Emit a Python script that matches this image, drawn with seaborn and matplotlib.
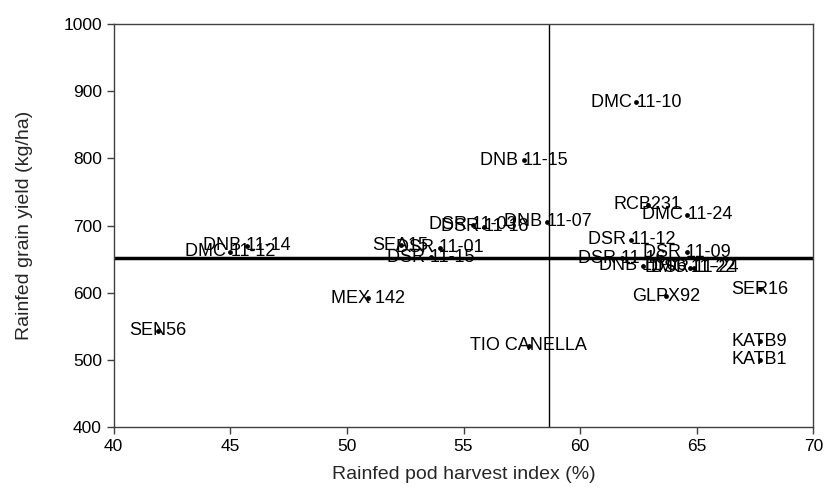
import matplotlib
matplotlib.use("Agg")
import matplotlib.pyplot as plt
import seaborn as sns
import pandas as pd

# genotype labels and values
genotypes = ["DMC 11-10", "DNB 11-15", "RCB231", "DMC 11-24", "DNB 11-07",
             "DSR 11-03", "DSR 11-18", "DNB 11-14", "DMC 11-12", "SEA15",
             "DSR 11-01", "DSR 11-15", "MEX 142", "SEN56", "TIO CANELLA",
             "DSR 11-12", "DSR 11-09", "DSR 11-16", "DNB 11-06", "DMC 11-22",
             "DSR 11-24", "GLPX92", "SER16", "KATB9", "KATB1"]
pod_hi = [62.4, 57.6, 62.9, 64.6, 58.6,
          55.4, 55.9, 45.7, 45.0, 52.3,
          54.0, 53.6, 50.9, 41.9, 57.8,
          62.2, 64.6, 61.8, 62.7, 64.7,
          64.9, 63.7, 67.7, 67.7, 67.7]
grain_yield = [884, 797, 731, 716, 706,
               701, 698, 670, 661, 671,
               667, 653, 592, 543, 521,
               679, 660, 651, 640, 637,
               637, 595, 605, 528, 500]

mean_hi = 58.65
mean_yield = 651

df = pd.DataFrame({"hi": pod_hi, "gy": grain_yield, "name": genotypes})

sns.set_style("white")
plt.rcParams['font.family'] = ['Liberation Sans', 'DejaVu Sans']

fig = plt.figure(figsize=(8.24, 4.93), dpi=100)
ax = fig.add_axes([0.138, 0.134, 0.849, 0.817])

sns.scatterplot(data=df, x="hi", y="gy", ax=ax, color="black", s=12,
                edgecolor="black", linewidth=0, zorder=3)

for _, r in df.iterrows():
    ax.text(r["hi"], r["gy"], r["name"], ha="center", va="center",
            fontsize=13, color="black", zorder=4)

ax.axhline(mean_yield, color="black", lw=2.5, zorder=2)
ax.axvline(mean_hi, color="black", lw=1, zorder=2)

ax.set_xlim(40, 70)
ax.set_ylim(400, 1000)
ax.set_xticks(range(40, 71, 5))
ax.set_yticks(range(400, 1001, 100))
ax.tick_params(axis="both", direction="out", length=5, width=1, labelsize=12.5,
               color="#404040", labelcolor="black", bottom=True, left=True)
for sp in ax.spines.values():
    sp.set_color("#404040")
    sp.set_linewidth(1)

ax.set_xlabel("Rainfed pod harvest index (%)", fontsize=14, labelpad=9)
ax.set_ylabel("Rainfed grain yield (kg/ha)", fontsize=14, labelpad=22)

fig.savefig("out.png", dpi=100)
